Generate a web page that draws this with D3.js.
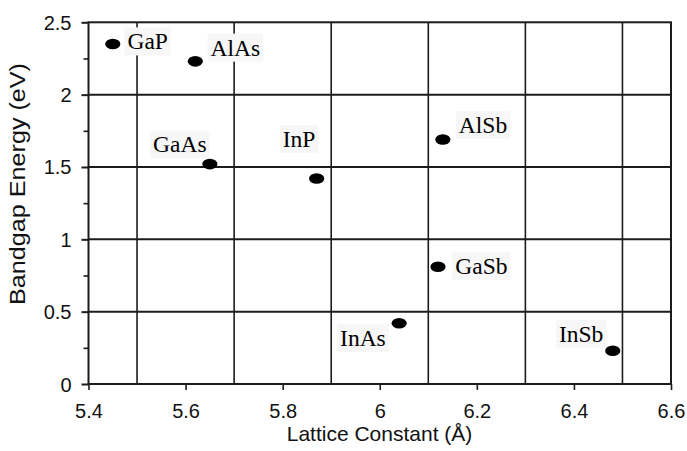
<!DOCTYPE html>
<html>
<head>
<meta charset="utf-8">
<script src="https://cdn.jsdelivr.net/npm/d3@7"></script>
<style>
  html, body { margin: 0; padding: 0; background: #fff; }
  svg { display: block; }
  .tick text { font-family: "Liberation Sans", Arial, Helvetica, sans-serif; font-size: 20px; fill: #111; }
</style>
</head>
<body>
<svg id="chart" width="687" height="451"></svg>
<script>
// III-V semiconductors: lattice constant (Å) vs bandgap energy (eV)
const materials = ["GaP", "AlAs", "GaAs", "InP", "AlSb", "GaSb", "InAs", "InSb"];
const latticeConstant = [5.45, 5.62, 5.65, 5.87, 6.13, 6.12, 6.04, 6.48];
const bandgapEnergy   = [2.35, 2.23, 1.52, 1.42, 1.69, 0.81, 0.42, 0.23];

const xTickValues = [5.4, 5.6, 5.8, 6.0, 6.2, 6.4, 6.6];
const xGridValues = [5.5, 5.7, 5.9, 6.1, 6.3, 6.5];
const yTickValues = [0, 0.5, 1, 1.5, 2, 2.5];
const yMinorValues = [0.25, 0.75, 1.25, 1.75, 2.25];

const xTitle = "Lattice Constant (Å)";
const yTitle = "Bandgap Energy (eV)";

// label placement around each marker: pixel offset and anchor
const labelPlacement = {
  GaP:  { dx: 14.7,  dy: 5.4,   anchor: "start" },
  AlAs: { dx: 15.3,  dy: -5.7,  anchor: "start" },
  GaAs: { dx: -3.3,  dy: -11.6, anchor: "end" },
  InP:  { dx: -1.3,  dy: -31.6, anchor: "end" },
  AlSb: { dx: 16,    dy: -6.7,  anchor: "start" },
  GaSb: { dx: 17.3,  dy: 7,     anchor: "start" },
  InAs: { dx: -13.4, dy: 22.7,  anchor: "end" },
  InSb: { dx: -9.4,  dy: -9,    anchor: "end" }
};

const svg = d3.select("#chart");
const plot = { left: 88.5, right: 671, top: 22.3, bottom: 384 };

const x = d3.scaleLinear().domain([5.4, 6.6]).range([plot.left, plot.right]);
const y = d3.scaleLinear().domain([0, 2.5]).range([plot.bottom, plot.top]);

const ink = "#1c1c1c";

// grid
const grid = svg.append("g");
grid.selectAll("line.v").data(xGridValues).join("line")
  .attr("class", "v")
  .attr("x1", d => x(d)).attr("x2", d => x(d))
  .attr("y1", plot.top).attr("y2", plot.bottom)
  .attr("stroke", ink).attr("stroke-width", 1.6);
grid.selectAll("line.h").data(yTickValues.filter(v => v > 0 && v < 2.5)).join("line")
  .attr("class", "h")
  .attr("x1", plot.left).attr("x2", plot.right)
  .attr("y1", d => y(d)).attr("y2", d => y(d))
  .attr("stroke", ink).attr("stroke-width", 2);

// frame
svg.append("rect")
  .attr("x", plot.left).attr("y", plot.top)
  .attr("width", plot.right - plot.left).attr("height", plot.bottom - plot.top)
  .attr("fill", "none").attr("stroke", ink).attr("stroke-width", 2);

// x axis
const xAxis = svg.append("g")
  .attr("transform", `translate(0,${plot.bottom})`)
  .call(d3.axisBottom(x).tickValues(xTickValues).tickSize(6)
    .tickFormat(d => String(+d.toFixed(1))));
xAxis.select(".domain").remove();
xAxis.selectAll(".tick line").attr("stroke", ink).attr("stroke-width", 1.6);
xAxis.selectAll(".tick text").attr("y", 34).attr("dy", 0);

// y axis: major ticks with labels
const yAxis = svg.append("g")
  .attr("transform", `translate(${plot.left},0)`)
  .call(d3.axisLeft(y).tickValues(yTickValues).tickSize(7).tickPadding(10)
    .tickFormat(d => String(d)));
yAxis.select(".domain").remove();
yAxis.selectAll(".tick line").attr("stroke", ink).attr("stroke-width", 2);
yAxis.selectAll(".tick text").attr("dy", "0.35em");

// y axis: minor ticks
const yMinor = svg.append("g")
  .attr("transform", `translate(${plot.left},0)`)
  .call(d3.axisLeft(y).tickValues(yMinorValues).tickSize(5).tickFormat(""));
yMinor.select(".domain").remove();
yMinor.selectAll(".tick line").attr("stroke", ink).attr("stroke-width", 1.6);

// axis titles
svg.append("text")
  .attr("x", 379.5).attr("y", 440.7)
  .attr("text-anchor", "middle")
  .attr("font-family", "Liberation Sans, Arial, Helvetica, sans-serif")
  .attr("font-size", 21).attr("fill", "#111")
  .text(xTitle);

svg.append("text")
  .attr("transform", "translate(25,184) rotate(-90)")
  .attr("text-anchor", "middle")
  .attr("font-family", "Liberation Sans, Arial, Helvetica, sans-serif")
  .attr("font-size", 21.5).attr("fill", "#111")
  .attr("textLength", 242).attr("lengthAdjust", "spacingAndGlyphs")
  .text(yTitle);

// data
const points = materials.map((name, i) => ({
  name, a: latticeConstant[i], eg: bandgapEnergy[i]
}));

// labels with faint backing boxes
const labels = svg.append("g");
const lg = labels.selectAll("g").data(points).join("g");
const lt = lg.append("text")
  .attr("x", d => x(d.a) + labelPlacement[d.name].dx)
  .attr("y", d => y(d.eg) + labelPlacement[d.name].dy)
  .attr("text-anchor", d => labelPlacement[d.name].anchor)
  .attr("font-family", "Liberation Serif, Times New Roman, serif")
  .attr("font-size", 23.5).attr("fill", "#000")
  .text(d => d.name);
lt.each(function () {
  const b = this.getBBox();
  d3.select(this.parentNode).insert("rect", "text")
    .attr("x", b.x - 3).attr("y", b.y - 1)
    .attr("width", b.width + 6).attr("height", b.height + 2)
    .attr("fill", "#f7f7f7");
});

// markers
svg.append("g").selectAll("ellipse").data(points).join("ellipse")
  .attr("cx", d => x(d.a)).attr("cy", d => y(d.eg))
  .attr("rx", 7.6).attr("ry", 5.3)
  .attr("fill", "#000");
</script>
</body>
</html>
